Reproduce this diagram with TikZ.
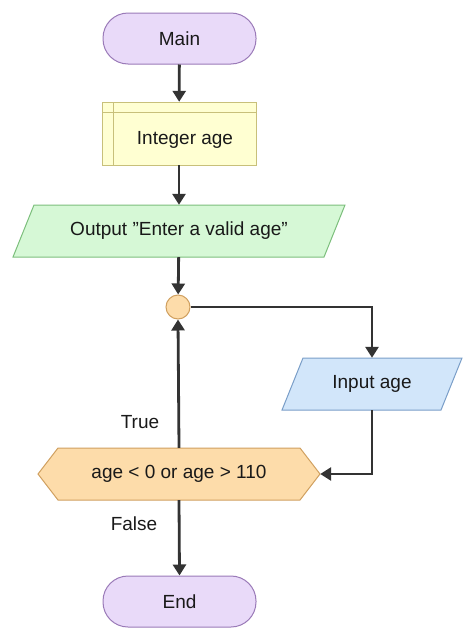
\documentclass[tikz,border=0pt]{standalone}
\usepackage{fontspec}
\setmainfont{Liberation Sans}
\usetikzlibrary{shapes.geometric,arrows.meta}
\definecolor{purp}{HTML}{E9DAF9}\definecolor{purpd}{HTML}{9A7AB8}
\definecolor{yel}{HTML}{FFFFD2}\definecolor{yeld}{HTML}{C8C07A}
\definecolor{grn}{HTML}{D6F8D6}\definecolor{grnd}{HTML}{7CBF7C}
\definecolor{blu}{HTML}{D2E6FA}\definecolor{blud}{HTML}{7A9EC8}
\definecolor{org}{HTML}{FDDCAA}\definecolor{orgd}{HTML}{D0A060}
\definecolor{ln}{HTML}{333333}
\begin{document}
\begin{tikzpicture}[x=1pt,y=-1pt,
  txt/.style={font=\fontsize{19}{22}\selectfont,text=black!90},
  term/.style={draw=purpd,fill=purp,rounded corners=25pt,line width=1pt,minimum width=153pt,minimum height=51pt,txt},
  box/.style={minimum height=52pt,inner sep=0,txt},
  sh/.style={line width=1pt},
  arr/.style={draw=ln,line width=2.8pt,-{Triangle[length=11pt,width=13pt]}}]
\useasboundingbox (0,0) rectangle (474,640);
\node[term] (main) at (179.5,38.5) {Main};
% subroutine
\draw[sh,draw=yeld,fill=yel] (102,102) rectangle (256,165);
\draw[yeld,line width=1pt] (102,112)--(256,112) (113,102)--(113,165);
\node[box,minimum width=154pt,minimum height=63pt] (dec) at (179,133.5) {};
\node[txt] (dect) at (185,140) {Integer age};
% output
\draw[sh,draw=grnd,fill=grn] (34,205)--(345,205)--(324,257)--(13,257)--cycle;
\node[box,minimum width=332pt] (out) at (179,231) {Output \symbol{34}Enter a valid age\symbol{34}};
\node[circle,draw=orgd,fill=org,line width=1pt,minimum size=24pt,inner sep=0] (c) at (178,307) {};
% input
\draw[sh,draw=blud,fill=blu] (303,358)--(462,358)--(441,410)--(282,410)--cycle;
\node[box,minimum width=180pt] (in) at (372,384) {Input age};
% decision
\draw[sh,draw=orgd,fill=org] (38,474)--(58,448)--(300,448)--(320,474)--(300,500)--(58,500)--cycle;
\node[box,minimum width=282pt] (hex) at (179,474) {age < 0 or age > 110};
\node[term] (end) at (179.5,601.5) {End};
\draw[arr] (main) -- (dec);
\draw[arr] (dec) -- (out);
\draw[arr] (out) -- (c);
\draw[arr] (c.east) -| (in.north);
\draw[arr] (in.south) |- (hex.east);
\draw[arr] (hex.north) -- (c.south);
\draw[arr] (hex.south) -- (end.north);
\node[txt] (t) at (140,422) {True};
\node[txt] (f) at (134,524) {False};
\end{tikzpicture}
\end{document}
